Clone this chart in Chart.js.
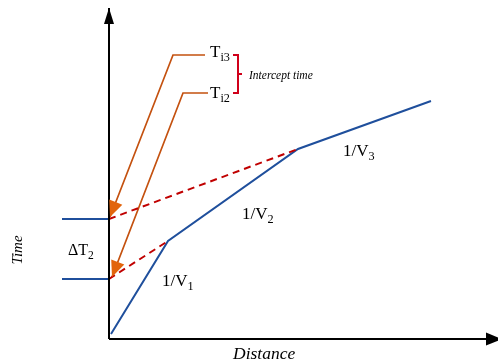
<!DOCTYPE html>
<html>
<head>
<meta charset="utf-8">
<script src="https://cdn.jsdelivr.net/npm/chart.js@4/dist/chart.umd.min.js"></script>
<style>
html,body{margin:0;padding:0;background:#fff;}
canvas{display:block;}
</style>
</head>
<body>
<canvas id="c" width="498" height="360"></canvas>
<script>
// Travel-time (distance, time) values, origin at the axes corner
const directWave = [[2,5],[59,98],[189,190],[322,238]];          // 1/V1, 1/V2, 1/V3 segments
const offsetLower = [[-47,60],[0,60]];                             // intercept level Ti2
const offsetUpper = [[-47,120],[0,120]];                           // intercept level Ti3
const backLower = [[0,60],[59,98]];                                // extrapolated 1/V2
const backUpper = [[0,120],[189,190]];                             // extrapolated 1/V3
const pointerTi3 = [[96,284],[64,284],[1,122]];
const pointerTi2 = [[99,246],[74,246],[3,62]];
const bracketTop = [[124,284],[129,284],[129,246],[124,246]];
const bracketTick = [[129,265],[133,265]];
const timeAxis = [[0,0],[0,331]];
const distAxis = [[0,0],[393,0]];

const labels = [
  {t:'T', s:'i3', x:101, y:288, size:17},
  {t:'T', s:'i2', x:101, y:247, size:17},
  {t:'Intercept time', x:140, y:264, size:11.5, italic:true},
  {t:'\u0394T', s:'2', x:-41, y:89, size:16},
  {t:'1/V', s:'1', x:53, y:59, size:17},
  {t:'1/V', s:'2', x:133, y:126, size:17},
  {t:'1/V', s:'3', x:234, y:189, size:17},
  {t:'Time', x:-92, y:89, size:15, italic:true, rot:true},
  {t:'Distance', x:124, y:-14, size:17.5, italic:true}
];

const pts = a => a.map(p => ({x:p[0], y:p[1]}));
const BLUE = '#1f4f9c', RED = '#c00000', ORANGE = '#c4510f', BRACKET = '#d0001a';

function ds(data, color, width, extra) {
  return Object.assign({data: pts(data), borderColor: color, backgroundColor: color,
    borderWidth: width, pointRadius: 0, showLine: true, fill: false, tension: 0,
    borderJoinStyle: 'miter', borderCapStyle: 'butt'}, extra || {});
}

const arrowPlugin = {
  id: 'arrows',
  afterDatasetsDraw(chart) {
    const ctx = chart.ctx, xs = chart.scales.x, ys = chart.scales.y;
    chart.data.datasets.forEach(d => {
      if (!d.arrow) return;
      const n = d.data.length;
      const a = d.data[n-2], b = d.data[n-1];
      const x1 = xs.getPixelForValue(a.x), y1 = ys.getPixelForValue(a.y);
      const x2 = xs.getPixelForValue(b.x), y2 = ys.getPixelForValue(b.y);
      const ang = Math.atan2(y2-y1, x2-x1);
      const L = d.arrow.len, W = d.arrow.wid/2;
      ctx.save();
      ctx.translate(x2, y2); ctx.rotate(ang);
      ctx.beginPath();
      ctx.moveTo(0,0); ctx.lineTo(-L, -W); ctx.lineTo(-L, W); ctx.closePath();
      ctx.fillStyle = d.arrow.color; ctx.fill();
      ctx.restore();
    });
    ctx.save();
    labels.forEach(l => {
      const px = xs.getPixelForValue(l.x), py = ys.getPixelForValue(l.y);
      const f = (l.italic ? 'italic ' : '') + l.size + 'px "Liberation Serif", "Times New Roman", serif';
      ctx.fillStyle = '#000';
      ctx.textBaseline = 'alphabetic';
      ctx.textAlign = 'left';
      ctx.save();
      ctx.translate(px, py);
      if (l.rot) { ctx.rotate(-Math.PI/2); ctx.font = f; const w = ctx.measureText(l.t).width; ctx.fillText(l.t, -w/2, l.size*0.33); ctx.restore(); return; }
      ctx.font = f;
      const base = l.size*0.33;
      ctx.fillText(l.t, 0, base);
      if (l.s) {
        const w = ctx.measureText(l.t).width;
        ctx.font = (l.size*0.72) + 'px "Liberation Serif", "Times New Roman", serif';
        ctx.fillText(l.s, w, base + l.size*0.25);
      }
      ctx.restore();
    });
    ctx.restore();
  }
};

new Chart(document.getElementById('c'), {
  type: 'scatter',
  data: {
    datasets: [
      ds(timeAxis, '#000', 2, {arrow:{len:16, wid:10, color:'#000'}}),
      ds(distAxis, '#000', 2, {arrow:{len:16, wid:13, color:'#000'}}),
      ds(backLower, RED, 2, {borderDash:[7,5]}),
      ds(backUpper, RED, 2, {borderDash:[7,5]}),
      ds(offsetLower, BLUE, 2),
      ds(offsetUpper, BLUE, 2),
      ds(directWave, BLUE, 2),
      ds(pointerTi3, ORANGE, 1.7, {arrow:{len:16, wid:14, color:'#e2640c'}}),
      ds(pointerTi2, ORANGE, 1.7, {arrow:{len:16, wid:14, color:'#e2640c'}}),
      ds(bracketTop, BRACKET, 2),
      ds(bracketTick, BRACKET, 2)
    ]
  },
  options: {
    responsive: false,
    animation: false,
    layout: {padding: 0},
    plugins: {legend: {display: false}, tooltip: {enabled: false}},
    scales: {
      x: {type: 'linear', min: -109, max: 389, display: false},
      y: {type: 'linear', min: -21, max: 339, display: false}
    }
  },
  plugins: [arrowPlugin]
});
</script>
</body>
</html>
